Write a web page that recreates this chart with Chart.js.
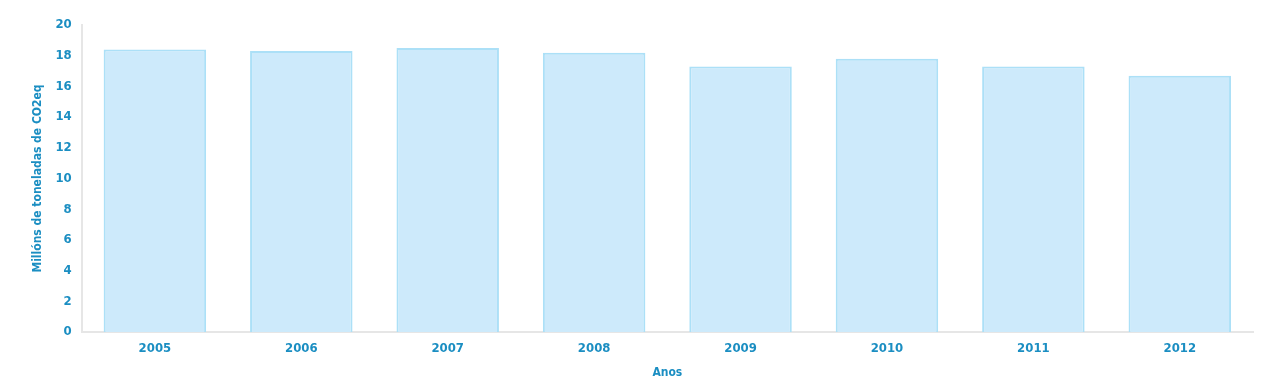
<!DOCTYPE html>
<html>
<head>
<meta charset="utf-8">
<script src="https://cdn.jsdelivr.net/npm/chart.js@4/dist/chart.umd.min.js"></script>
<style>
  html, body { margin: 0; padding: 0; background: #fff; }
  #wrap { width: 1274px; height: 391px; position: relative; }
</style>
</head>
<body>
<div id="wrap"><canvas id="c"></canvas></div>
<script>
// emisions por ano (millóns de toneladas de CO2eq)
var years = ['2005', '2006', '2007', '2008', '2009', '2010', '2011', '2012'];
var emissions = [18.4, 18.3, 18.5, 18.2, 17.3, 17.8, 17.3, 16.7];
var yTicks = [0, 2, 4, 6, 8, 10, 12, 14, 16, 18, 20];

var textColor = '#1b8ec2';
var fontFamily = "'DejaVu Sans Condensed', 'Liberation Sans Narrow', 'Roboto', sans-serif";

Chart.defaults.font.family = fontFamily;
Chart.defaults.color = textColor;

new Chart(document.getElementById('c'), {
  type: 'bar',
  data: {
    labels: years,
    datasets: [{
      data: emissions,
      backgroundColor: '#cdeafb',
      borderColor: '#ace0f7',
      borderWidth: 2,
      categoryPercentage: 1,
      barPercentage: 0.7
    }]
  },
  options: {
    responsive: true,
    maintainAspectRatio: false,
    animation: false,
    layout: { padding: { left: 31, right: 21, top: 25, bottom: 11 } },
    plugins: { legend: { display: false }, tooltip: { enabled: false } },
    scales: {
      x: {
        grid: { display: false, drawTicks: false },
        border: { color: '#e6e6e6', width: 2 },
        ticks: { padding: 9, font: { size: 13, weight: 'bold' } },
        title: { display: true, text: 'Anos', font: { size: 12, weight: 'bold' }, padding: { top: 0, bottom: 0 } }
      },
      y: {
        min: 0,
        max: 20,
        afterBuildTicks: function (axis) { axis.ticks = yTicks.map(function (v) { return { value: v }; }); },
        grid: { display: false, drawTicks: false },
        border: { color: '#e6e6e6', width: 2 },
        ticks: { padding: 10, font: { size: 13, weight: 'bold' } },
        title: { display: true, text: 'Millóns de toneladas de CO2eq', font: { size: 12, weight: 'bold' }, padding: { top: 0, bottom: 0 } }
      }
    }
  }
});
</script>
</body>
</html>
